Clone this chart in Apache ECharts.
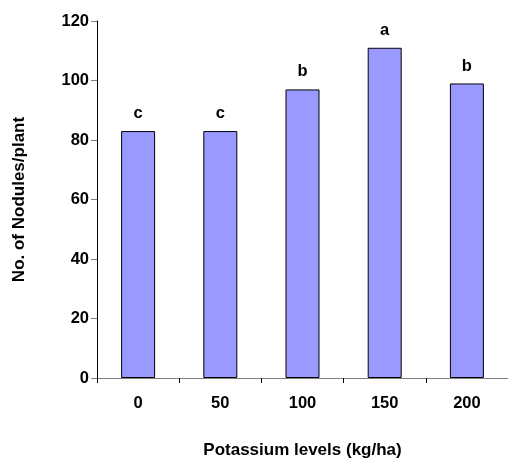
<!DOCTYPE html>
<html>
<head>
<meta charset="utf-8">
<script src="https://cdn.jsdelivr.net/npm/echarts@6/dist/echarts.min.js"></script>
<style>
  html, body { margin: 0; padding: 0; background: #fff; }
  #chart { width: 508px; height: 459px; }
</style>
</head>
<body>
<div id="chart"></div>
<script>
var levels = ['0', '50', '100', '150', '200']
var nodules = [83, 83, 97, 111, 99]
var letters = ['c', 'c', 'b', 'a', 'b']

var font = '"Liberation Sans", Arial, sans-serif'
var myChart = echarts.init(document.getElementById('chart'), null, { renderer: 'canvas' })

var option = {
  animation: false,
  backgroundColor: '#fff',
  grid: {
    left: 97,
    right: 0,
    top: 21,
    bottom: 81,
    containLabel: false,
    outerBoundsMode: 'none'
  },
  xAxis: {
    type: 'category',
    data: levels,
    name: 'Potassium levels (kg/ha)',
    nameLocation: 'middle',
    nameGap: 64,
    nameTextStyle: { fontFamily: font, fontWeight: 'bold', fontSize: 17, color: '#000' },
    axisLine: { lineStyle: { color: '#808080', width: 1 } },
    axisTick: { show: true, interval: 0, length: 5, lineStyle: { color: '#000' } },
    axisLabel: { interval: 0, margin: 17, fontFamily: font, fontWeight: 'bold', fontSize: 16.5, color: '#000' }
  },
  yAxis: {
    type: 'value',
    min: 0,
    max: 120,
    interval: 20,
    name: 'No. of Nodules/plant',
    nameLocation: 'middle',
    nameGap: 69,
    nameTextStyle: { fontFamily: font, fontWeight: 'bold', fontSize: 17, color: '#000' },
    axisLine: { show: true, lineStyle: { color: '#000', width: 1 } },
    axisTick: { show: true, length: 6, lineStyle: { color: '#808080' } },
    splitLine: { show: false },
    axisLabel: { margin: 8, fontFamily: font, fontWeight: 'bold', fontSize: 16.5, color: '#000' }
  },
  series: [{
    type: 'bar',
    data: nodules,
    barWidth: 34,
    itemStyle: { color: '#9999ff', borderColor: '#000', borderWidth: 1 },
    label: {
      show: true,
      position: 'top',
      distance: 9,
      fontFamily: font,
      fontWeight: 'bold',
      fontSize: 16.5,
      color: '#000',
      formatter: function (p) { return letters[p.dataIndex] }
    }
  }]
}
myChart.setOption(option)
</script>
</body>
</html>
